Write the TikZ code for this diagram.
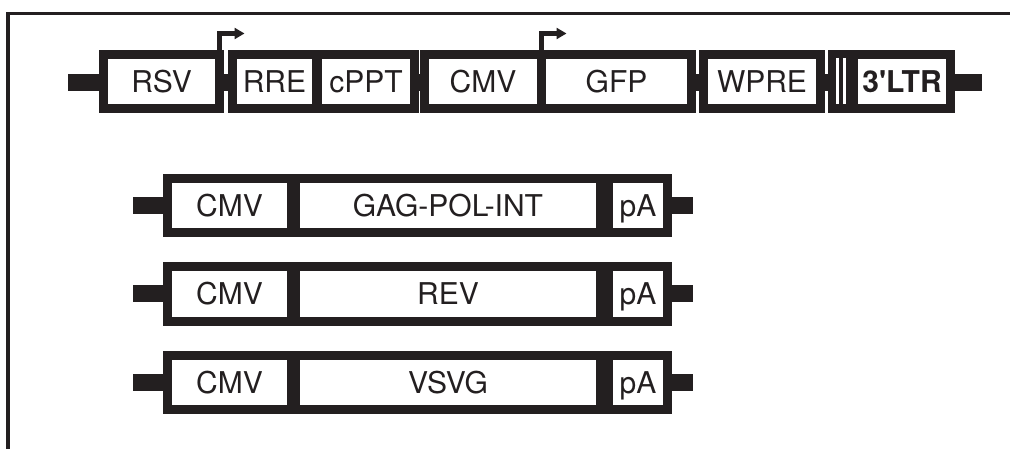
\documentclass[tikz,border=0pt]{standalone}
\usepackage{fontspec}
\setmainfont{TeX Gyre Heros}
\usepackage{tikz}
\usetikzlibrary{arrows.meta}

\definecolor{ink}{HTML}{231F20}

\begin{document}
\begin{tikzpicture}[
  x=1pt, y=-1pt,
  seg/.style={draw=ink, line width=9pt, fill=white, inner sep=0pt, outer sep=0pt,
              minimum height=54pt, text height=21.5pt, text depth=0pt,
              font=\fontsize{30}{32}\selectfont, text=ink},
  bb/.style={draw=ink, line width=17pt},
  prom/.style={draw=ink, line width=4.5pt, line join=miter, -{Triangle[length=10pt, width=11pt]}},
  slit/.style={draw=white, line width=3pt}
]
\useasboundingbox (0,0) rectangle (1010,449);
\draw[ink, line width=3.5pt] (8,449) -- (8,13.5) -- (1010,13.5);

% transfer vector
\coordinate (lend) at (68,82.5);
\coordinate (rend) at (982,82.5);
\draw[bb] (lend) -- (rend);
\node[seg, minimum width=116pt] (rsv)  at (161.5,81.5) {RSV};
\node[seg, minimum width=84pt]  (rre)  at (274.5,81.5) {RRE};
\node[seg, minimum width=97pt]  (cppt) at (366,81.5)   {cPPT};
\node[seg, minimum width=117pt] (cmv)  at (483,81.5)   {CMV};
\node[seg, minimum width=150pt] (gfp)  at (616.5,81.5) {GFP};
\node[seg, minimum width=117pt] (wpre) at (762,81.5)   {WPRE};
\node[seg, minimum width=97pt]  (ltr)  at (902,81.5)   {\bfseries 3\textquotesingle LTR};
\node[fill=ink, inner sep=0pt, minimum width=21pt, minimum height=63pt] (ltrcap) at (838.5,81.5) {};
\draw[slit] (837.5,58) -- (837.5,104);
\draw[slit] (844.5,58) -- (844.5,104);
\draw[prom] (rsv.north east) -- ++(0,-21) -- ++(25,0);
\draw[prom] (cmv.north east) -- ++(0,-21) -- ++(25,0);

% packaging plasmids
\coordinate (gagl) at (133,205.5);
\coordinate (gagr) at (693,205.5);
\draw[bb] (gagl) -- (gagr);
\node[seg, minimum width=124pt] (cmvgag) at (229.5,205.5) {CMV};
\node[seg, minimum width=305pt] (gag)    at (448,205.5)   {GAG-POL-INT};
\node[seg, minimum width=59pt]  (pagag)  at (638,205.5)   {pA};

\coordinate (revl) at (133,294);
\coordinate (revr) at (693,294);
\draw[bb] (revl) -- (revr);
\node[seg, minimum width=124pt] (cmvrev) at (229.5,294) {CMV};
\node[seg, minimum width=305pt] (rev)    at (448,294)   {REV};
\node[seg, minimum width=59pt]  (parev)  at (638,294)   {pA};

\coordinate (vsvgl) at (133,382.5);
\coordinate (vsvgr) at (693,382.5);
\draw[bb] (vsvgl) -- (vsvgr);
\node[seg, minimum width=124pt] (cmvvsvg) at (229.5,382.5) {CMV};
\node[seg, minimum width=305pt] (vsvg)    at (448,382.5)   {VSVG};
\node[seg, minimum width=59pt]  (pavsvg)  at (638,382.5)   {pA};
\end{tikzpicture}
\end{document}
